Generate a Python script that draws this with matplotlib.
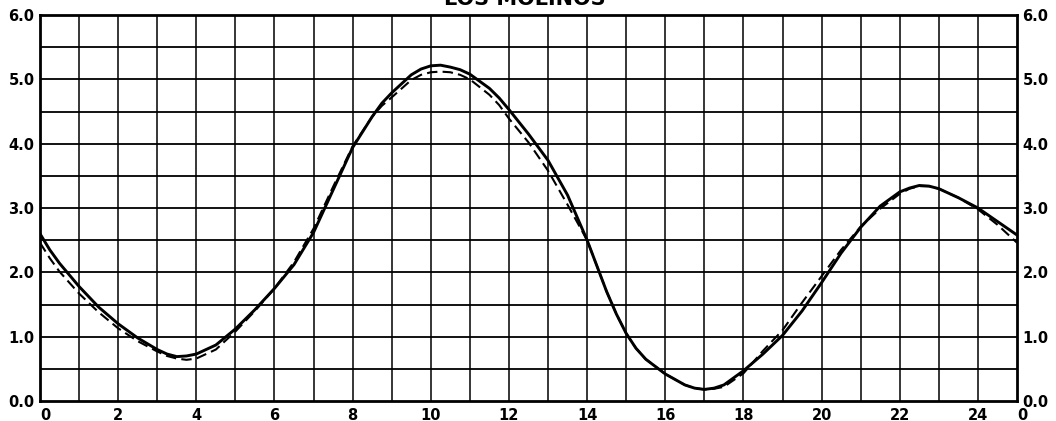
import matplotlib
matplotlib.use("Agg")
import matplotlib.pyplot as plt

title = "LOS MOLINOS"
hours = [0, 0.25, 0.5, 1, 1.5, 2, 2.5, 3, 3.25, 3.5, 3.75, 4, 4.5,
         5, 5.5, 6, 6.5, 7, 7.5, 8, 8.5, 8.75, 9, 9.5, 9.75, 10, 10.25, 10.5, 10.75,
         11, 11.5, 11.75, 12, 12.5, 13, 13.5, 14, 14.5, 14.75, 15, 15.25, 15.5,
         16, 16.5, 16.75, 17, 17.25, 17.5, 18, 18.5, 19, 19.5,
         20, 20.5, 21, 21.5, 22, 22.25, 22.5, 22.75, 23, 23.5, 24, 24.5, 25]
observed = [2.60, 2.35, 2.14, 1.78, 1.46, 1.20, 0.98, 0.80, 0.73, 0.69, 0.70, 0.73, 0.87,
            1.12, 1.42, 1.75, 2.12, 2.62, 3.28, 3.94, 4.42, 4.63, 4.79, 5.07, 5.16, 5.21, 5.22, 5.19, 5.15,
            5.08, 4.86, 4.71, 4.53, 4.15, 3.74, 3.20, 2.50, 1.70, 1.35, 1.05, 0.82, 0.65,
            0.42, 0.25, 0.20, 0.18, 0.20, 0.25, 0.47, 0.73, 1.02, 1.40,
            1.84, 2.30, 2.70, 3.03, 3.25, 3.31, 3.35, 3.34, 3.30, 3.16, 3.00, 2.79, 2.58]
predicted = [2.46, 2.22, 2.01, 1.67, 1.38, 1.13, 0.93, 0.77, 0.70, 0.66, 0.64, 0.66, 0.80,
             1.08, 1.40, 1.75, 2.16, 2.68, 3.33, 3.96, 4.42, 4.59, 4.72, 4.99, 5.07, 5.11, 5.12, 5.11, 5.07,
             5.00, 4.76, 4.60, 4.39, 4.02, 3.58, 3.05, 2.50, 1.70, 1.35, 1.05, 0.82, 0.65,
             0.42, 0.25, 0.20, 0.18, 0.19, 0.22, 0.43, 0.78, 1.10, 1.53,
             1.94, 2.35, 2.71, 2.99, 3.22, 3.30, 3.34, 3.34, 3.30, 3.16, 2.98, 2.74, 2.46]
xtick_vals = [0, 2, 4, 6, 8, 10, 12, 14, 16, 18, 20, 22, 24, 25]
xtick_labels = ["0", "2", "4", "6", "8", "10", "12", "14", "16", "18", "20", "22", "24", "0"]
ytick_vals = [0, 1, 2, 3, 4, 5, 6]
ytick_labels = ["0.0", "1.0", "2.0", "3.0", "4.0", "5.0", "6.0"]

plt.rcParams['font.family'] = ['DejaVu Sans']
fig = plt.figure(figsize=(10.56, 4.21), dpi=100)
ax = fig.add_axes([40/1056, 1 - 401/421, 977/1056, 386/421])

ax.set_xlim(0, 25)
ax.set_ylim(0, 6)

# grid
for xv in range(1, 25):
    ax.axvline(xv, color='black', lw=1.1, zorder=1)
for k in range(1, 12):
    ax.axhline(k * 0.5, color='black', lw=1.3, zorder=1)

ax.plot(hours, observed, color='black', lw=2.1, zorder=3,
        solid_capstyle='round', solid_joinstyle='round')
ax.plot(hours, predicted, color='black', lw=1.5, dashes=(5, 2.5), zorder=3,
        dash_joinstyle='round')

for s in ax.spines.values():
    s.set_linewidth(2.0)

ax.set_xticks(xtick_vals)
ax.set_xticklabels(xtick_labels, fontsize=10.5, fontweight='bold')
ax.set_yticks(ytick_vals)
ax.set_yticklabels(ytick_labels, fontsize=10.5, fontweight='bold')
ax.tick_params(axis='both', length=0)
ax.tick_params(axis='x', pad=5)
ax.tick_params(axis='y', pad=4, labelright=True)
xl = ax.get_xticklabels()
xl[0].set_ha('left')
xl[-1].set_ha('left')

fig.text(0.497, 1 - 5/421, title, ha='center', va='baseline',
         fontsize=15, fontweight='bold')

fig.savefig("out.png", dpi=100)
